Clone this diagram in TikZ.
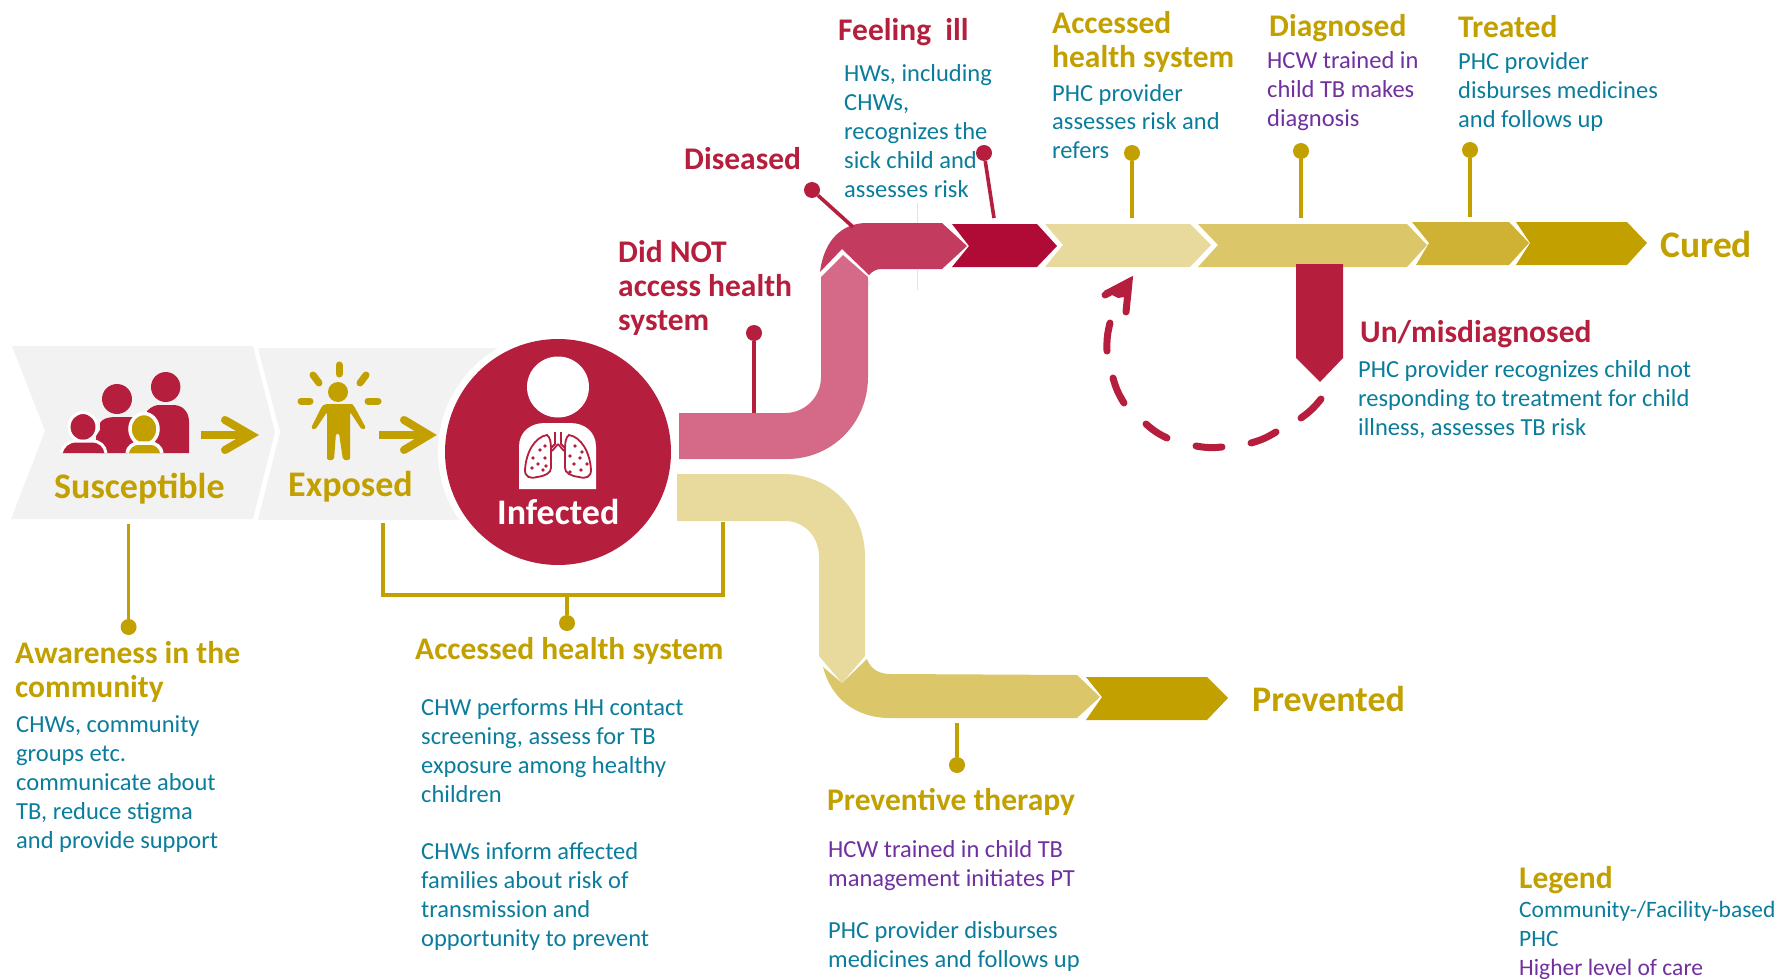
\documentclass[tikz,border=0pt]{standalone}
\usepackage{fontspec}
\setmainfont{Carlito}
\definecolor{cgold}{HTML}{C2A000}
\definecolor{cred}{HTML}{B51F3D}
\definecolor{cteal}{HTML}{0B7D9C}
\definecolor{cpurple}{HTML}{7030A0}
\definecolor{cgrey}{HTML}{F2F2F2}
\definecolor{bpink}{HTML}{D46A87}
\definecolor{bdpink}{HTML}{C33B5E}
\definecolor{bred}{HTML}{B00B36}
\definecolor{blight}{HTML}{E8DA9C}
\definecolor{bmed}{HTML}{DBC669}
\definecolor{bdark}{HTML}{CFB233}
\tikzset{
  bodytext/.style={font=\fontsize{24.5}{29}\selectfont,align=left,anchor=base west,inner sep=0pt,text=cteal},
  purpletext/.style={bodytext,text=cpurple},
  legendtext/.style={bodytext,font=\fontsize{23.5}{29}\selectfont},
  headgold/.style={font=\fontsize{31.5}{34}\selectfont\bfseries,align=left,anchor=base west,inner sep=0pt,text=cgold},
  headred/.style={headgold,text=cred},
  iconlabel/.style={headgold,font=\fontsize{36}{40}\selectfont\bfseries},
  golddot/.style={circle,fill=cgold,inner sep=0pt,minimum size=16pt},
  reddot/.style={circle,fill=cred,inner sep=0pt,minimum size=16pt},
  goldline/.style={draw=cgold,line width=3.6pt},
  redline/.style={draw=cred,line width=3.6pt},
  flecha/.style={draw=cgold,line width=8pt,line join=miter},
  dashseg/.style={draw=cred,line width=7pt,line cap=round},
  faint/.style={draw=bpink!25,line width=0.8pt}
}
\begin{document}
\begin{tikzpicture}[x=1pt,y=-1pt]
\useasboundingbox (0,0) rectangle (1781,979);
% grey chevrons
\fill[cgrey] (12,346) -- (253,346) -- (275,432) -- (253,519) -- (11,519) -- (45,431) -- cycle;
\fill[cgrey] (258,348) -- (498,348) -- (560,432) -- (458,520) -- (258,520) -- (280,432) -- cycle;
% circle
\node[circle,fill=white,inner sep=0pt,minimum size=240pt] (ring) at (558,452) {};
\node[circle,fill=cred,inner sep=0pt,minimum size=226pt] (infected) at (558,452) {};
% family icon
\fill[cred] (165.7,387) ellipse [x radius=14.7,y radius=15];
\fill[cred] (147,453) -- (147,411) .. controls (152,406) and (156,405) .. (160,405) -- (173,405) .. controls (183,405) and (189,412) .. (189,422) -- (189,453) -- cycle;
\fill[cred] (117,399) ellipse [x radius=15,y radius=15];
\fill[cred] (96,453) -- (96,436) -- (100,430) -- (100,423) .. controls (102,419) and (108,417) .. (115,417) -- (135,417) .. controls (142,417) and (147,420) .. (147,425) -- (147,453) -- cycle;
\filldraw[fill=cred,draw=white,line width=3pt] (83,427) ellipse [x radius=14,y radius=14.5];
\filldraw[fill=cred,draw=white,line width=3pt] (61,453) .. controls (63,446) and (68,441) .. (76,441) -- (92,441) .. controls (100,441) and (105,446) .. (106,453);
\filldraw[fill=cgold,draw=white,line width=3.5pt] (144,429) ellipse [x radius=14,y radius=15.5];
\filldraw[fill=cgold,draw=white,line width=3.5pt] (127,453) .. controls (128,447) and (133,443) .. (139,443) -- (150,443) .. controls (156,443) and (161,447) .. (162,453);
\coordinate (a1s) at (200.6,435); \coordinate (a1t) at (251,435);
\coordinate (a1u) at (225,420); \coordinate (a1d) at (225,450);
\draw[flecha] (a1s) -- (a1t);
\draw[flecha,line cap=round] (a1u) -- (a1t) -- (a1d);
% person icon
\fill[cgold] (338,392) ellipse [x radius=10,y radius=10];
\draw[cgold,line width=7pt,line cap=round] (339,365) -- (339,374);
\draw[cgold,line width=7pt,line cap=round] (313,375) -- (319,383);
\draw[cgold,line width=7pt,line cap=round] (366,375) -- (360,383);
\draw[cgold,line width=7pt,line cap=round] (301,401) -- (310,401);
\draw[cgold,line width=7pt,line cap=round] (368,401) -- (378,401);
\fill[cgold,rounded corners=2pt] (325,404) -- (350,404) .. controls (352,404) and (353,405) .. (354,406) -- (366,428) -- (362,430) -- (350,412) -- (350,460) -- (343,460) -- (339,433) -- (336,433) -- (334,460) -- (327,460) -- (327,412) -- (315,430) -- (311,428) -- (322,406) -- cycle;
\coordinate (a2s) at (379,435); \coordinate (a2t) at (429,435);
\coordinate (a2u) at (404,420); \coordinate (a2d) at (404,450);
\draw[flecha] (a2s) -- (a2t);
\draw[flecha,line cap=round] (a2u) -- (a2t) -- (a2d);
% lungs icon
\fill[white] (558,387) ellipse [x radius=31,y radius=30.5];
\fill[white] (519,489) -- (519,447) .. controls (519,432) and (530,423) .. (545,423) -- (570,423) .. controls (585,423) and (596,432) .. (596,447) -- (596,489) -- cycle;
\begin{scope}[draw=cred,line width=1.8pt,fill=white]
\filldraw (547,435) .. controls (535,437) and (526,452) .. (525,470) .. controls (525,477) and (530,479) .. (537,477) .. controls (545,476) and (551,473) .. (551,468) -- (551,449) .. controls (551,442) and (550,437) .. (547,435) -- cycle;
\filldraw (569,435) .. controls (581,437) and (590,452) .. (591,470) .. controls (591,477) and (586,479) .. (579,477) .. controls (571,476) and (565,473) .. (565,468) -- (565,449) .. controls (565,442) and (566,437) .. (569,435) -- cycle;
\draw (555,432) -- (555,444) -- (551,448);
\draw (561,432) -- (561,444) -- (565,448);
\draw (558,444) -- (552,451);
\draw (558,444) -- (564,451);
\end{scope}
\foreach \p in {(540,450),(545,446),(533,458),(545,458),(538,464),(532,468),(543,470),(546,466),(575,446),(582,452),(570,456),(580,458),(587,464),(574,464),(581,470),(570,472)}
  \fill[cred] \p circle (1.9);
% pink band
\fill[bpink] (679,413) -- (785,413) .. controls (805,413) and (821,397) .. (821,377) -- (821,277) -- (843,255) -- (868,277) -- (868,377) .. controls (868,423) and (832,459) .. (787,459) -- (679,459) -- cycle;
\fill[bdpink] (820,272) .. controls (824,240) and (842,223) .. (867,223) -- (942,223) -- (967,246) -- (942,269) -- (882,269) .. controls (876,269) and (873,271) .. (869,275) -- (842,249) -- cycle;
\draw[faint] (917,203) -- (917,223);
\draw[faint] (917,269) -- (917,290);
% top chevrons
\fill[bred] (952,224) -- (1037,224) -- (1057,246) -- (1037,267) -- (952,267) -- (969,246) -- cycle;
\fill[blight] (1045,224) -- (1190,224) -- (1211,245) -- (1190,267) -- (1045,267) -- (1063,245) -- cycle;
\fill[bmed] (1198,224) -- (1407,224) -- (1427,245) -- (1407,267) -- (1198,267) -- (1218,245) -- cycle;
\fill[bdark] (1412,222) -- (1509,222) -- (1529,243) -- (1509,265) -- (1416,265) -- (1429,243) -- cycle;
\fill[cgold] (1516,222) -- (1627,222) -- (1647,243) -- (1627,265) -- (1516,265) -- (1530,243) -- cycle;
% yellow band
\fill[blight] (677,474) -- (783,474) .. controls (830,474) and (865,510) .. (865,557) -- (865,656) -- (842,683) -- (819,656) -- (819,557) .. controls (819,537) and (805,521) .. (785,521) -- (677,521) -- cycle;
\fill[bmed] (823,667) -- (842,683) -- (867,659) .. controls (870,668) and (878,674) .. (890,674) -- (1077,675) -- (1100,697) -- (1077,718) -- (890,718) .. controls (855,718) and (831,698) .. (823,667) -- cycle;
\fill[cgold] (1086,677) -- (1207,677) -- (1228,698) -- (1207,720) -- (1086,720) -- (1102,697) -- cycle;
% un/misdiagnosed arrow
\fill[cred] (1296,264) -- (1343,264) -- (1343,358) -- (1320,382) -- (1296,358) -- cycle;
% dashed return loop
\coordinate (d1a) at (1321,399); \coordinate (d1b) at (1301,418);
\coordinate (d2a) at (1276,432); \coordinate (d2b) at (1251,443);
\coordinate (d3a) at (1222,447); \coordinate (d3b) at (1196,446);
\coordinate (d4a) at (1167,438); \coordinate (d4b) at (1146,424);
\coordinate (d5a) at (1124,403); \coordinate (d5b) at (1113,378);
\coordinate (d6a) at (1107,351); \coordinate (d6b) at (1110,323);
\coordinate (d7a) at (1126,312); \coordinate (d7b) at (1129,282);
\coordinate (d7c) at (1105,295);
\foreach \i in {1,...,6}
  \draw[dashseg] (d\i a) to[bend left=8] (d\i b);
\draw[dashseg,line join=miter] (d7a) -- (d7b) -- (d7c);
\fill[cred] (1131,277) -- (1131,296) -- (1118,298) -- (1104,291) -- cycle;
% lollipop connectors
\node[golddot] (dAware) at (128.6,627) {};
\coordinate (sSus) at (128.6,524);
\draw[goldline] (sSus) -- (dAware);
\coordinate (bL) at (383,523); \coordinate (bLc) at (383,595);
\coordinate (bR) at (723,522); \coordinate (bRc) at (723,595);
\coordinate (bM) at (567,595);
\node[golddot] (dAcc) at (567,623) {};
\draw[goldline] (bL) -- (bLc) -- (bRc) -- (bR);
\draw[goldline] (bM) -- (dAcc);
\node[golddot] (dPrev) at (957,765) {};
\coordinate (sPrev) at (957,723);
\draw[goldline] (sPrev) -- (dPrev);
\node[reddot] (dNot) at (754,333) {};
\coordinate (sNot) at (754,413);
\draw[redline] (dNot) -- (sNot);
\node[reddot] (dDis) at (812,190) {};
\coordinate (sDis) at (853,227);
\draw[redline] (dDis) -- (sDis);
\node[reddot] (dFeel) at (984,153) {};
\coordinate (sFeel) at (994,218);
\draw[redline] (dFeel) -- (sFeel);
\node[golddot] (dAcc2) at (1132,153) {};
\coordinate (sAcc2) at (1132,218);
\draw[goldline] (dAcc2) -- (sAcc2);
\node[golddot] (dDiag) at (1301,151) {};
\coordinate (sDiag) at (1301,218);
\draw[goldline] (dDiag) -- (sDiag);
\node[golddot] (dTreat) at (1470,150) {};
\coordinate (sTreat) at (1470,217);
\draw[goldline] (dTreat) -- (sTreat);
% labels (y is the baseline of a node's last line)
\node[iconlabel] (tSus) at (54,498.5) {Susceptible};
\node[iconlabel] (tExp) at (288,496.5) {Exposed};
\node[iconlabel,text=white] (tInf) at (497,524) {Infected};
\node[headgold] (tAware) at (15,697) {Awareness in the\\community};
\node[bodytext] (bAware) at (16,848) {CHWs, community\\groups etc.\\communicate about\\TB, reduce stigma\\and provide support};
\node[headgold] (tAcc) at (415,659) {Accessed health system};
\node[bodytext] (bAcc1) at (421,802) {CHW performs HH contact\\screening, assess for TB\\exposure among healthy\\children};
\node[bodytext] (bAcc2) at (421,946) {CHWs inform affected\\families about risk of\\transmission and\\opportunity to prevent};
\node[headgold] (tPrev) at (827,810) {Preventive therapy};
\node[purpletext] (bPrev1) at (828,886) {HCW trained in child TB\\management initiates PT};
\node[bodytext] (bPrev2) at (828,967) {PHC provider disburses\\medicines and follows up};
\node[iconlabel] (tPrevd) at (1252,711) {Prevented};
\node[headgold,font=\fontsize{37.5}{40}\selectfont\bfseries] (tCured) at (1660,257) {Cured};
\node[headgold] (tLeg) at (1519,888) {Legend};
\node[legendtext] (bLeg1) at (1519,946) {Community-/Facility-based\\PHC};
\node[legendtext,text=cpurple] (bLeg2) at (1519,975) {Higher level of care};
\node[headred] (tUn) at (1360,342) {Un/misdiagnosed};
\node[bodytext] (bUn) at (1358,435.5) {PHC provider recognizes child not\\responding to treatment for child\\illness, assesses TB risk};
\node[headred] (tNot) at (618,330) {Did NOT\\access health\\system};
\node[headred] (tDis) at (684,169) {Diseased};
\node[headred] (tFeel) at (838,41) {Feeling\ \ ill};
\node[bodytext] (bFeel) at (844,197) {HWs, including\\CHWs,\\recognizes the\\sick child and\\assesses risk};
\node[headgold] (tAcc3) at (1052,68) {Accessed\\health system};
\node[bodytext] (bAcc3) at (1052,159) {PHC provider\\assesses risk and\\refers};
\node[headgold] (tDiag) at (1269,37) {Diagnosed};
\node[purpletext] (bDiag) at (1267,127) {HCW trained in\\child TB makes\\diagnosis};
\node[headgold] (tTreat) at (1458,38) {Treated};
\node[bodytext] (bTreat) at (1458,128) {PHC provider\\disburses medicines\\and follows up};
\end{tikzpicture}
\end{document}
